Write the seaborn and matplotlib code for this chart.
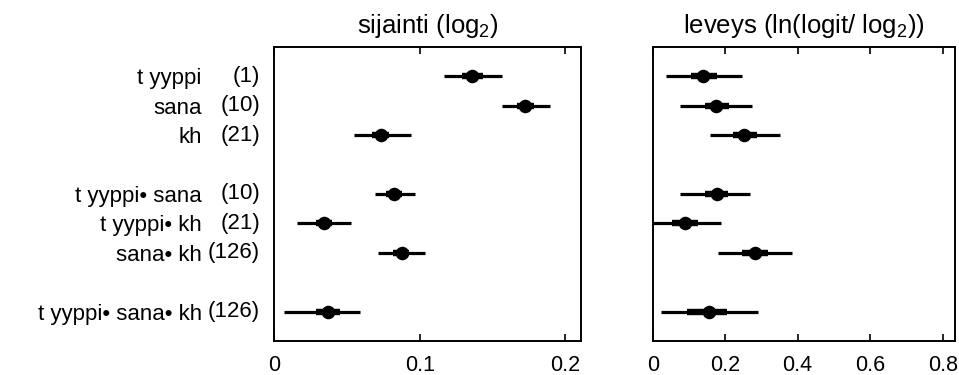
import numpy as np
import pandas as pd
import matplotlib
matplotlib.use("Agg")
import matplotlib.pyplot as plt
import seaborn as sns

# ---- data ----
names = ["t yyppi", "sana", "kh", "t yyppi• sana", "t yyppi• kh", "sana• kh", "t yyppi• sana• kh"]
counts = ["(1)", "(10)", "(21)", "(10)", "(21)", "(126)", "(126)"]
rows = [0, 1, 2, 4, 5, 6, 8]

loc_est = [0.1362, 0.1723, 0.0732, 0.0826, 0.0345, 0.0876, 0.0368]
loc_lo95 = [0.1169, 0.1567, 0.0547, 0.0693, 0.0158, 0.0712, 0.0066]
loc_hi95 = [0.1567, 0.1894, 0.0940, 0.0968, 0.0528, 0.1039, 0.0590]
loc_lo50 = [0.1293, 0.1666, 0.0672, 0.0772, 0.0290, 0.0820, 0.0286]
loc_hi50 = [0.1432, 0.1787, 0.0792, 0.0880, 0.0400, 0.0930, 0.0453]

wid_est = [0.1400, 0.1746, 0.2519, 0.1770, 0.0895, 0.2825, 0.1565]
wid_lo95 = [0.0370, 0.0760, 0.1590, 0.0740, -0.0100, 0.1800, 0.0220]
wid_hi95 = [0.2475, 0.2750, 0.3512, 0.2675, 0.1895, 0.3834, 0.2913]
wid_lo50 = [0.1050, 0.1443, 0.2224, 0.1452, 0.0524, 0.2455, 0.0938]
wid_hi50 = [0.1783, 0.2113, 0.2869, 0.2087, 0.1259, 0.3190, 0.2058]

loc_ticks = [0, 0.1, 0.2]
loc_ticklabels = ["0", "0.1", "0.2"]
wid_ticks = [0, 0.2, 0.4, 0.6, 0.8]
wid_ticklabels = ["0", "0.2", "0.4", "0.6", "0.8"]

title_left = r"sijainti (log$_\mathrm{2}$)"
title_right = r"leveys (ln(logit/ log$_\mathrm{2}$))"

# ---- style ----
sns.set_theme(style="white")
plt.rcParams["font.family"] = ["Liberation Sans", "DejaVu Sans"]
plt.rcParams["mathtext.fontset"] = "custom"
plt.rcParams["mathtext.rm"] = "Liberation Sans"
plt.rcParams["mathtext.it"] = "Liberation Sans:italic"
plt.rcParams["mathtext.bf"] = "Liberation Sans:bold"
plt.rcParams["text.color"] = "black"
plt.rcParams["axes.labelcolor"] = "black"
plt.rcParams["xtick.color"] = "black"
plt.rcParams["ytick.color"] = "black"

df = pd.DataFrame({
    "name": names, "count": counts, "row": rows,
    "loc": loc_est, "loc_lo95": loc_lo95, "loc_hi95": loc_hi95,
    "loc_lo50": loc_lo50, "loc_hi50": loc_hi50,
    "wid": wid_est, "wid_lo95": wid_lo95, "wid_hi95": wid_hi95,
    "wid_lo50": wid_lo50, "wid_hi50": wid_hi50,
})

fig = plt.figure(figsize=(9.59, 3.75), dpi=100)
ax1 = fig.add_axes([0.2857, 0.0907, 0.3201, 0.784])
ax2 = fig.add_axes([0.6806, 0.0907, 0.3152, 0.784])

FS = 16
TFS = 15.5
panels = [
    (ax1, "loc", (0, 0.2107), loc_ticks, loc_ticklabels, title_left),
    (ax2, "wid", (0, 0.834), wid_ticks, wid_ticklabels, title_right),
]
for ax, key, xlim, ticks, tlabels, title in panels:
    ax.hlines(df["row"], df[key + "_lo95"], df[key + "_hi95"], color="black", lw=2.3, zorder=2)
    ax.hlines(df["row"], df[key + "_lo50"], df[key + "_hi50"], color="black", lw=4.6, zorder=3)
    sns.scatterplot(data=df, x=key, y="row", ax=ax, color="black", s=95,
                    edgecolor="black", linewidth=0, zorder=4, legend=False)
    ax.set_xlim(*xlim)
    ax.set_ylim(9, -1)
    ax.set_xticks(ticks)
    ax.set_xticklabels(tlabels, fontsize=TFS, color="black")
    ax.set_xlabel("")
    ax.set_ylabel("")
    ax.set_title(title, fontsize=18.5, pad=10, color="black")
    ax.tick_params(axis="x", direction="in", top=True, bottom=True, length=5,
                   width=1.2, color="black", pad=10, labelcolor="black")
    for sp in ax.spines.values():
        sp.set_visible(True)
        sp.set_color("black")
        sp.set_linewidth(1.4)

ax1.set_yticks(df["row"])
ax1.set_yticklabels(df["name"], fontsize=FS, color="black")
ax1.tick_params(axis="y", length=0, pad=52)
ax2.set_yticks([])

for r, c in zip(df["row"], df["count"]):
    ax1.annotate(c, xy=(0, r), xycoords=("axes fraction", "data"),
                 xytext=(-10, 0), textcoords="offset points",
                 ha="right", va="center", fontsize=FS, color="black")

fig.savefig("out.png", dpi=100)
